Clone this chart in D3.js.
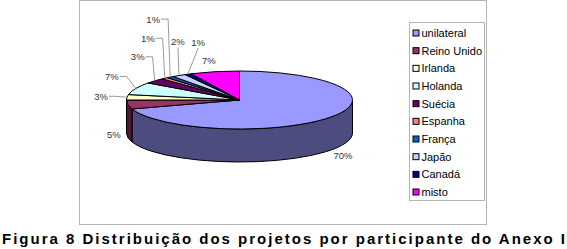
<!DOCTYPE html>
<html>
<head>
<meta charset="utf-8">
<script src="https://cdn.jsdelivr.net/npm/d3@7"></script>
<style>
  body { margin: 0; background: #fff; }
  svg { display: block; font-family: "Liberation Sans", Arial, sans-serif; }
</style>
</head>
<body>
<svg id="chart" width="567" height="249"></svg>
<script>
// data
const categories = ['unilateral', 'Reino Unido', 'Irlanda', 'Holanda', 'Suécia',
  'Espanha', 'França', 'Japão', 'Canadá', 'misto'];
const shares = [70, 5, 3, 7, 3, 1, 1, 2, 1, 7];
const colors = ['#9999FF', '#993366', '#FFFFCC', '#CCFFFF', '#660066',
  '#FF8080', '#0066CC', '#CCCCFF', '#000080', '#FF00FF'];
const caption = 'Figura 8 Distribuição dos projetos por participante do Anexo I';

// label placement relative to the rim point of each slice (dx, dy, leader style)
const labelLayout = [
  {dx: 12, dy: 38, leader: null},
  {dx: -14, dy: 30, leader: null},
  {dx: -26, dy: -1, leader: 'side'},
  {dx: -24, dy: -12, leader: 'side'},
  {dx: -17, dy: -24, leader: 'side'},
  {dx: -17, dy: -40, leader: 'side'},
  {dx: -17, dy: -58, leader: 'side'},
  {dx: -1, dy: -34, leader: 'below'},
  {dx: 10, dy: -32, leader: 'below'},
  {dx: -6, dy: -11, leader: null}
];

const svg = d3.select('#chart');

// chart frame
svg.append('rect')
  .attr('x', 79.5).attr('y', 0.5)
  .attr('width', 407).attr('height', 224)
  .attr('fill', 'none')
  .attr('stroke', '#b4b4b4');

// pie geometry
const cx = 239.5, cy = 100, rx = 113, ry = 29, depth = 33;
const pt = (a, dy = 0) => [cx + rx * Math.sin(a), cy - ry * Math.cos(a) + dy];

const pie = d3.pie().sort(null).value(d => d)
  .startAngle(0).endAngle(2 * Math.PI);
const slices = pie(shares);

function topPath(s) {
  const p0 = pt(s.startAngle), p1 = pt(s.endAngle);
  const large = (s.endAngle - s.startAngle) > Math.PI ? 1 : 0;
  return `M${cx},${cy}L${p0}A${rx},${ry} 0 ${large} 1 ${p1}Z`;
}

function sidePath(s) {
  const b0 = Math.max(s.startAngle, Math.PI / 2);
  const b1 = Math.min(s.endAngle, 3 * Math.PI / 2);
  if (b1 <= b0) return null;
  const p0 = pt(b0), p1 = pt(b1);
  const q0 = pt(b0, depth), q1 = pt(b1, depth);
  return `M${p0}A${rx},${ry} 0 0 1 ${p1}L${q1}A${rx},${ry} 0 0 0 ${q0}Z`;
}

const darker = c => d3.rgb(c).darker(1.95).formatHex();

const pieG = svg.append('g');

// side walls
pieG.selectAll('path.side')
  .data(slices.filter(s => sidePath(s)))
  .enter()
  .append('path')
  .attr('class', 'side')
  .attr('d', sidePath)
  .attr('fill', s => darker(colors[s.index]))
  .attr('stroke', '#000')
  .attr('stroke-width', 1)
  .attr('stroke-linejoin', 'round');

// top faces
pieG.selectAll('path.top')
  .data(slices)
  .enter()
  .append('path')
  .attr('class', 'top')
  .attr('d', topPath)
  .attr('fill', s => colors[s.index])
  .attr('stroke', '#000')
  .attr('stroke-width', 1)
  .attr('stroke-linejoin', 'round');

// labels and leader lines
const labelG = svg.append('g');
slices.forEach((s, i) => {
  const mid = (s.startAngle + s.endAngle) / 2;
  const rim = pt(mid);
  const lay = labelLayout[i];
  const lx = rim[0] + lay.dx, ly = rim[1] + lay.dy;
  const txt = labelG.append('text')
    .attr('x', lx).attr('y', ly)
    .attr('text-anchor', 'middle')
    .attr('dominant-baseline', 'central')
    .attr('font-size', '9.5px')
    .attr('fill', '#333')
    .text(s.value + '%');
  if (lay.leader === 'side') {
    const w = txt.node().getComputedTextLength();
    const sx = lx + w / 2 + 1;
    const kx = Math.min(sx + 7, rim[0]);
    labelG.append('polyline')
      .attr('points', [[sx, ly], [kx, ly], rim].join(' '))
      .attr('fill', 'none')
      .attr('stroke', '#9a9a9a')
      .attr('stroke-width', 1);
  } else if (lay.leader === 'below') {
    labelG.append('line')
      .attr('x1', lx).attr('y1', ly + 6)
      .attr('x2', rim[0]).attr('y2', rim[1] - 1)
      .attr('stroke', '#9a9a9a')
      .attr('stroke-width', 1);
  }
});

// legend
const legendY = d3.scalePoint()
  .domain(categories)
  .range([32.5, 191.5]);

svg.append('rect')
  .attr('x', 409.5).attr('y', 22.5)
  .attr('width', 75).attr('height', 178)
  .attr('fill', '#fff')
  .attr('stroke', '#b4b4b4');

const legend = svg.append('g')
  .selectAll('g')
  .data(categories)
  .enter()
  .append('g')
  .attr('transform', d => `translate(412.5,${legendY(d)})`);

legend.append('rect')
  .attr('x', 0.5).attr('y', -2.5)
  .attr('width', 6).attr('height', 6)
  .attr('fill', (d, i) => colors[i])
  .attr('stroke', '#000')
  .attr('stroke-width', 1);

legend.append('text')
  .attr('x', 9)
  .attr('y', 0.5)
  .attr('dominant-baseline', 'central')
  .attr('font-size', '11px')
  .attr('fill', '#000')
  .text(d => d);

// caption
svg.append('text')
  .attr('x', 2)
  .attr('y', 244)
  .attr('font-size', '15px')
  .attr('font-weight', 'bold')
  .attr('textLength', 563)
  .attr('lengthAdjust', 'spacing')
  .attr('fill', '#000')
  .text(caption);
</script>
</body>
</html>
